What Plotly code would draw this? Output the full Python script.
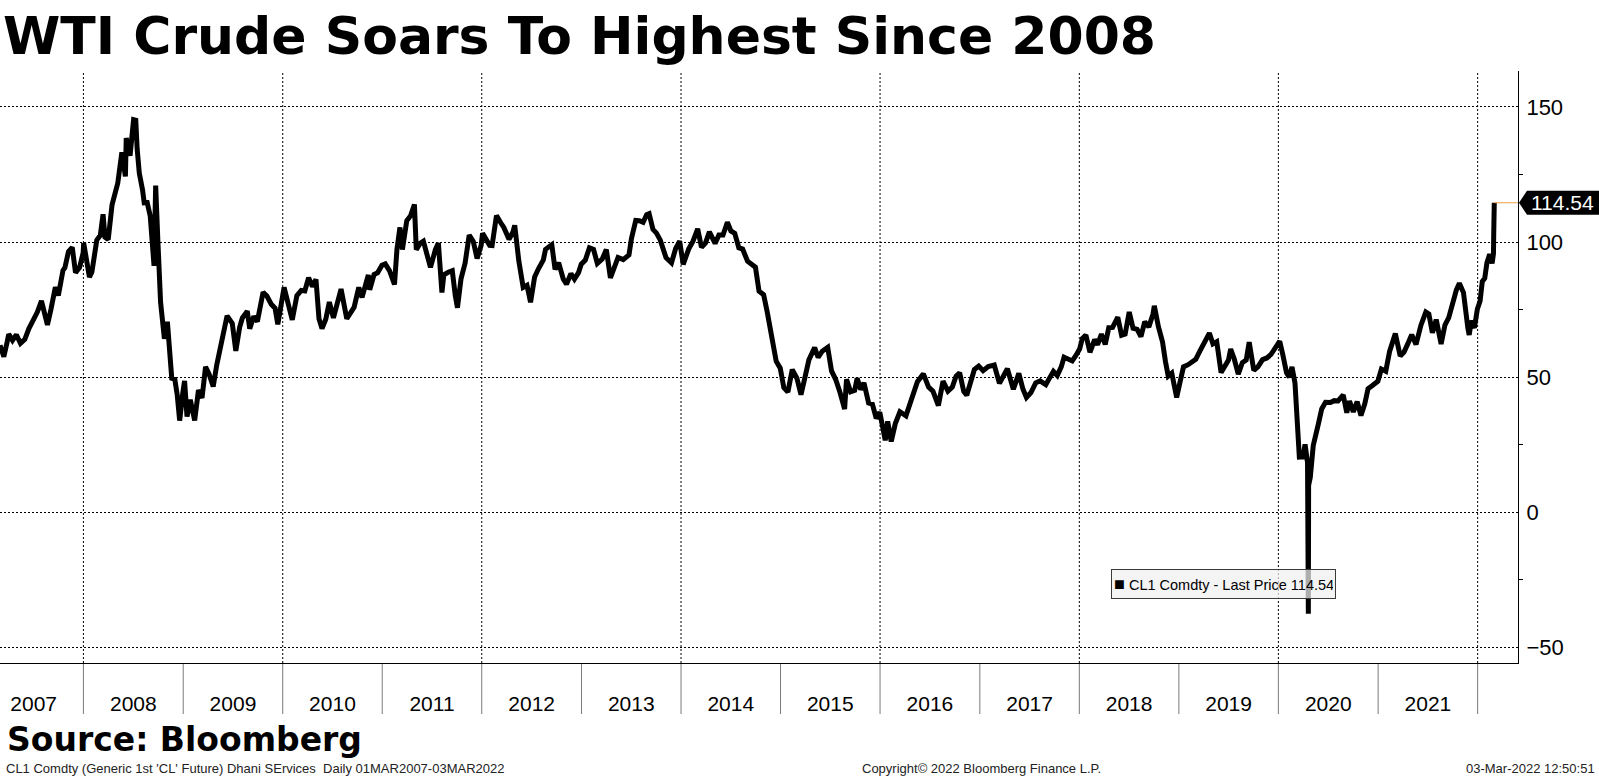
import plotly.graph_objects as go

# ---------------- data ----------------
dates = [
 "2007-03-01","2007-03-08","2007-03-15","2007-03-27","2007-04-02","2007-04-16","2007-04-30","2007-05-15","2007-05-31","2007-06-15",
 "2007-06-29","2007-07-16","2007-07-31","2007-08-15","2007-08-22","2007-09-04","2007-09-20","2007-10-01","2007-10-18","2007-10-25",
 "2007-11-07","2007-11-21","2007-12-03","2007-12-18","2007-12-31",
 "2008-01-02","2008-01-15","2008-01-23","2008-02-01","2008-02-19","2008-03-03","2008-03-13","2008-03-20","2008-04-01","2008-04-15",
 "2008-04-28","2008-05-06","2008-05-21","2008-06-03","2008-06-06","2008-06-13","2008-06-20","2008-07-03","2008-07-11","2008-07-16",
 "2008-07-24","2008-08-05","2008-08-11","2008-08-22","2008-09-02","2008-09-16","2008-09-22","2008-09-30","2008-10-10","2008-10-24",
 "2008-11-04","2008-11-20","2008-12-01","2008-12-10","2008-12-19","2008-12-31",
 "2009-01-06","2009-01-15","2009-01-27","2009-02-12","2009-02-26","2009-03-11","2009-03-24","2009-04-06","2009-04-21","2009-05-04",
 "2009-05-20","2009-06-02","2009-06-11","2009-06-30","2009-07-13","2009-07-27","2009-08-06","2009-08-24","2009-09-02","2009-09-17",
 "2009-09-30","2009-10-21","2009-11-04","2009-11-20","2009-12-04","2009-12-14","2009-12-31",
 "2010-01-06","2010-01-20","2010-02-05","2010-02-22","2010-03-10","2010-03-23","2010-04-06","2010-04-20","2010-05-03","2010-05-14",
 "2010-05-25","2010-06-08","2010-06-21","2010-07-06","2010-07-20","2010-08-03","2010-08-24","2010-09-07","2010-09-20","2010-10-07",
 "2010-10-19","2010-11-11","2010-11-16","2010-12-02","2010-12-15","2010-12-31",
 "2011-01-12","2011-01-28","2011-02-15","2011-02-24","2011-03-07","2011-03-16","2011-04-01","2011-04-15","2011-04-29","2011-05-06",
 "2011-05-20","2011-06-01","2011-06-15","2011-06-27","2011-07-15","2011-07-26","2011-08-08","2011-08-15","2011-08-31","2011-09-15",
 "2011-09-26","2011-10-04","2011-10-17","2011-11-01","2011-11-16","2011-12-01","2011-12-15","2011-12-30",
 "2012-01-04","2012-01-17","2012-01-30","2012-02-08","2012-02-24","2012-03-09","2012-03-22","2012-04-10","2012-04-24","2012-05-01",
 "2012-05-16","2012-06-01","2012-06-15","2012-06-28","2012-07-13","2012-07-27","2012-08-14","2012-08-22","2012-09-14","2012-09-26",
 "2012-10-09","2012-10-26","2012-11-07","2012-11-23","2012-12-06","2012-12-21","2012-12-31",
 "2013-01-15","2013-01-30","2013-02-14","2013-02-28","2013-03-18","2013-04-02","2013-04-17","2013-05-01","2013-05-15","2013-06-03",
 "2013-06-24","2013-07-03","2013-07-19","2013-08-01","2013-08-15","2013-08-28","2013-09-06","2013-09-20","2013-10-03","2013-10-17",
 "2013-11-07","2013-11-27","2013-12-12","2013-12-27",
 "2014-01-09","2014-01-29","2014-02-14","2014-03-03","2014-03-17","2014-04-01","2014-04-15","2014-05-06","2014-05-20","2014-06-04",
 "2014-06-20","2014-07-03","2014-07-17","2014-08-01","2014-08-15","2014-09-02","2014-09-22","2014-10-01","2014-10-14","2014-10-31",
 "2014-11-13","2014-11-28","2014-12-10","2014-12-16","2014-12-31",
 "2015-01-13","2015-01-28","2015-02-13","2015-03-02","2015-03-17","2015-04-01","2015-04-15","2015-05-06","2015-05-19","2015-06-03",
 "2015-06-23","2015-07-07","2015-07-22","2015-08-06","2015-08-24","2015-08-31","2015-09-15","2015-09-30","2015-10-09","2015-10-22",
 "2015-11-03","2015-11-20","2015-12-04","2015-12-18","2015-12-31",
 "2016-01-11","2016-01-20","2016-01-29","2016-02-11","2016-02-26","2016-03-14","2016-04-05","2016-04-18","2016-05-02","2016-05-17",
 "2016-06-08","2016-06-27","2016-07-13","2016-08-02","2016-08-19","2016-09-06","2016-09-22","2016-10-06","2016-10-19","2016-11-03",
 "2016-11-14","2016-11-30","2016-12-12","2016-12-28",
 "2017-01-13","2017-02-01","2017-02-23","2017-03-14","2017-03-31","2017-04-12","2017-05-04","2017-05-24","2017-06-08","2017-06-21",
 "2017-07-07","2017-07-25","2017-08-10","2017-08-31","2017-09-15","2017-09-28","2017-10-12","2017-10-27","2017-11-06","2017-11-21",
 "2017-12-06","2017-12-20","2018-01-02",
 "2018-01-12","2018-01-25","2018-02-09","2018-02-26","2018-03-09","2018-03-23","2018-04-06","2018-04-19","2018-05-03","2018-05-22",
 "2018-06-05","2018-06-18","2018-07-03","2018-07-17","2018-08-01","2018-08-15","2018-08-29","2018-09-13","2018-09-28","2018-10-03",
 "2018-10-18","2018-11-02","2018-11-13","2018-11-23","2018-12-06","2018-12-24","2019-01-03",
 "2019-01-18","2019-02-04","2019-02-15","2019-03-04","2019-03-20","2019-04-05","2019-04-23","2019-05-06","2019-05-20","2019-06-05",
 "2019-06-19","2019-07-02","2019-07-10","2019-07-23","2019-08-07","2019-08-22","2019-09-05","2019-09-16","2019-10-03","2019-10-18",
 "2019-11-04","2019-11-20","2019-12-05","2019-12-20",
 "2020-01-06","2020-01-17","2020-01-31","2020-02-10","2020-02-20","2020-03-02","2020-03-09","2020-03-18","2020-03-31","2020-04-08",
 "2020-04-17","2020-04-20","2020-04-21","2020-04-27","2020-05-08","2020-05-27","2020-06-08","2020-06-22","2020-07-10","2020-07-24",
 "2020-08-07","2020-08-26","2020-09-08","2020-09-18","2020-10-02","2020-10-16","2020-10-30","2020-11-13","2020-11-25","2020-12-10",
 "2020-12-31",
 "2021-01-13","2021-01-29","2021-02-12","2021-03-05","2021-03-23","2021-04-06","2021-04-20","2021-05-04","2021-05-20","2021-06-07",
 "2021-06-25","2021-07-06","2021-07-19","2021-08-02","2021-08-20","2021-09-03","2021-09-17","2021-10-05","2021-10-15","2021-10-26",
 "2021-11-10","2021-11-26","2021-12-01","2021-12-09","2021-12-20","2021-12-31",
 "2022-01-10","2022-01-18","2022-01-27","2022-02-04","2022-02-14","2022-02-23","2022-02-28","2022-03-01","2022-03-02","2022-03-03",
]
prices = [
 61.8,60.0,57.6,62.9,65.9,63.6,65.7,62.5,64.0,68.0,
 70.7,74.1,78.2,71.6,69.3,75.1,83.3,80.2,89.5,90.5,
 96.4,98.0,88.7,90.6,96.0,
 99.6,91.9,87.0,88.9,100.7,102.5,110.3,101.8,100.9,113.8,
 118.8,121.8,133.2,124.3,138.5,134.9,131.9,145.3,145.1,134.6,
 125.5,119.2,114.5,114.6,109.7,91.2,120.9,100.6,77.7,64.2,
 70.5,49.6,49.3,43.5,33.9,44.6,
 48.6,35.4,41.6,34.0,45.2,42.3,53.8,51.1,46.5,54.5,
 62.0,68.6,72.7,69.9,59.7,68.4,71.9,74.4,67.9,72.5,
 70.6,81.4,80.0,77.0,75.5,69.5,79.4,
 83.2,77.6,71.2,80.2,82.1,81.9,86.8,83.5,86.2,71.6,
 68.0,71.4,77.8,71.9,77.0,82.6,71.6,74.1,75.9,83.2,
 79.5,87.8,82.3,88.0,88.6,91.4,
 91.9,89.3,84.3,97.3,105.4,97.2,107.9,109.7,113.9,97.2,
 99.5,100.3,95.0,90.6,97.2,99.6,81.3,87.9,88.8,89.4,
 80.2,75.7,86.4,92.2,102.6,100.2,93.9,98.8,
 103.2,100.7,98.8,98.7,109.8,107.4,105.4,101.0,103.6,106.2,
 93.0,83.2,84.0,77.7,87.1,90.1,93.4,97.3,99.0,89.9,
 92.4,86.3,84.4,88.3,86.3,88.7,91.8,
 93.3,97.9,97.3,92.1,93.7,97.2,86.7,91.0,94.3,93.5,
 95.2,101.2,108.0,107.9,107.3,110.1,110.5,104.7,103.3,100.7,
 94.2,92.3,97.5,100.3,
 91.7,97.4,100.3,104.9,98.1,99.7,103.8,99.5,102.6,102.6,
 107.3,104.1,103.2,97.9,97.4,92.9,91.5,90.7,81.8,80.5,
 74.2,66.2,60.9,55.9,53.3,
 46.1,44.5,52.8,49.6,43.5,50.1,56.4,60.9,57.3,59.6,
 61.0,52.3,49.2,44.7,38.2,49.2,44.6,45.1,49.6,45.4,
 47.9,40.4,40.0,34.7,37.0,
 31.4,26.6,33.6,26.2,32.8,37.2,35.7,39.8,44.8,48.3,
 51.2,46.3,44.8,39.5,48.5,44.8,46.3,50.4,51.6,44.7,
 43.3,49.4,52.8,54.1,
 52.4,53.9,54.5,47.7,50.6,53.1,45.5,51.4,45.6,42.5,
 44.2,47.9,48.6,47.2,49.9,52.1,50.6,53.9,57.4,56.8,
 56.0,58.1,60.4,
 64.3,65.6,59.2,63.9,62.0,65.9,62.1,68.3,68.4,72.2,
 65.5,65.9,74.1,68.1,67.7,65.0,70.5,68.6,73.3,76.4,
 68.7,63.1,55.7,50.4,51.5,42.5,47.1,
 53.8,54.6,55.6,56.6,59.8,63.1,66.3,62.3,63.1,51.7,
 53.8,56.3,60.4,56.8,51.1,55.4,56.3,62.9,52.5,53.8,
 56.5,57.1,58.4,60.4,
 63.3,58.5,51.6,50.0,53.8,47.8,31.1,20.4,20.5,25.1,
 18.3,-37.6,10.0,12.8,24.7,32.8,38.2,40.7,40.6,41.3,
 41.2,43.4,36.8,41.1,37.1,40.9,35.8,40.1,45.7,46.8,
 48.5,
 53.0,52.2,59.5,66.1,57.8,59.3,62.4,65.7,62.1,69.2,
 74.1,73.4,66.4,71.3,62.3,69.3,72.0,78.9,82.3,84.7,
 81.3,68.2,65.6,70.9,68.2,75.2,
 78.2,85.4,86.6,92.3,95.5,92.1,95.7,103.4,110.6,114.54,
]

y_ticks = [150, 100, 50, 0, -50]
y_minor = [125, 75, 25, -25]
y_range = [-55.8, 163.3]
x_range = ["2007-03-01", "2022-05-29"]
year_bounds = ["2008-01-01","2009-01-01","2010-01-01","2011-01-01","2012-01-01","2013-01-01","2014-01-01",
               "2015-01-01","2016-01-01","2017-01-01","2018-01-01","2019-01-01","2020-01-01","2021-01-01","2022-01-01"]
grid_years = ["2008-01-01","2010-01-01","2012-01-01","2014-01-01","2016-01-01","2018-01-01","2020-01-01","2022-01-01"]

title = "WTI Crude Soars To Highest Since 2008"
source = "Source: Bloomberg"
footer_left = "CL1 Comdty (Generic 1st 'CL' Future) Dhani SErvices&nbsp;&nbsp;Daily 01MAR2007-03MAR2022"
footer_mid = "Copyright© 2022 Bloomberg Finance L.P."
footer_right = "03-Mar-2022 12:50:51"
series_name = "CL1 Comdty - Last Price"

# ---------------- layout geometry ----------------
W, H = 1599, 777
ML, MR, MT, MB = 0, 81, 71, 114
PW, PH = W - ML - MR, H - MT - MB

def px(xpix):
    return (xpix - ML) / PW

def py(ypix):
    return (H - MB - ypix) / PH

last = prices[-1]
dot = "2px,2px"

fig = go.Figure()
fig.add_trace(go.Scatter(x=dates, y=prices, mode="lines",
                         line=dict(color="black", width=5), hoverinfo="skip"))
# tick arrows on the right axis
fig.add_trace(go.Scatter(x=[1.0035] * len(y_ticks), y=y_ticks, xaxis="x2", yaxis="y",
                         mode="markers", cliponaxis=False, hoverinfo="skip",
                         marker=dict(symbol="triangle-right", size=8, color="black")))

shapes = []
for d in grid_years:
    shapes.append(dict(type="line", xref="x", yref="paper", x0=d, x1=d, y0=0, y1=1,
                       line=dict(color="black", width=1, dash=dot), layer="below"))
for d in year_bounds:
    shapes.append(dict(type="line", xref="x", yref="paper", x0=d, x1=d, y0=0, y1=py(714),
                       line=dict(color="#7a7a7a", width=1), layer="below"))
# orange last price line
shapes.append(dict(type="line", xref="x", yref="y", x0=dates[-1], x1=x_range[1], y0=last, y1=last,
                   line=dict(color="#e8a040", width=1)))
# last price flag
hh = 4.45
shapes.append(dict(type="path", xref="paper", yref="y", layer="above",
                   path=f"M {px(1519)},{last} L {px(1527)},{last+hh} L {px(1600)},{last+hh} "
                        f"L {px(1600)},{last-hh} L {px(1527)},{last-hh} Z",
                   fillcolor="black", line=dict(color="black", width=0)))

annotations = [
    dict(text=f"{last:.2f}", xref="paper", yref="y", x=px(1562.5), y=last, showarrow=False,
         xanchor="center", yanchor="middle", font=dict(family="Liberation Sans", size=21, color="white")),
    dict(text=f"<span style='font-size:18px'>■</span> {series_name} {last:.2f}",
         xref="paper", yref="paper", x=px(1223.4), y=py(584.3), showarrow=False,
         xanchor="center", yanchor="middle", align="left", width=219, height=24,
         bgcolor="rgba(240,240,240,0.72)", bordercolor="#3a3a3a", borderwidth=1, borderpad=2,
         font=dict(family="Liberation Sans", size=14.5, color="black")),
    dict(text=source, xref="paper", yref="paper", x=px(5), y=py(739), showarrow=False,
         xanchor="left", yanchor="middle",
         font=dict(family="DejaVu Sans", size=33, color="black", weight="bold")),
    dict(text=footer_left, xref="paper", yref="paper", x=px(4), y=py(768), showarrow=False,
         xanchor="left", yanchor="middle", font=dict(family="Liberation Sans", size=13, color="#222")),
    dict(text=footer_mid, xref="paper", yref="paper", x=px(981.5), y=py(768), showarrow=False,
         xanchor="center", yanchor="middle", font=dict(family="Liberation Sans", size=13, color="#222")),
    dict(text=footer_right, xref="paper", yref="paper", x=px(1597), y=py(768), showarrow=False,
         xanchor="right", yanchor="middle", font=dict(family="Liberation Sans", size=13, color="#222")),
]

fig.update_layout(
    width=W, height=H,
    margin=dict(l=ML, r=MR, t=MT, b=MB, pad=0),
    paper_bgcolor="white", plot_bgcolor="white",
    showlegend=False,
    title=dict(text=title, xref="container", yref="container", x=3 / W, xanchor="left",
               y=1 - 36 / H, yanchor="middle",
               font=dict(family="DejaVu Sans", size=52, color="black", weight="bold")),
    xaxis=dict(type="date", range=x_range, showgrid=False, zeroline=False,
               showline=True, linecolor="black", linewidth=1,
               dtick="M12", tick0="2008-01-01", ticklabelmode="period", tickformat="%Y",
               ticks="", ticklabelstandoff=22,
               tickfont=dict(family="Liberation Sans", size=21, color="black")),
    xaxis2=dict(overlaying="x", range=[0, 1], visible=False, fixedrange=True),
    yaxis=dict(side="right", range=y_range, tickmode="array", tickvals=y_ticks,
               showgrid=True, gridcolor="black", gridwidth=1, griddash=dot, zeroline=False,
               showline=True, linecolor="black", linewidth=1,
               ticks="outside", ticklen=3, tickcolor="rgba(0,0,0,0)",
               minor=dict(tickvals=y_minor, ticks="outside", ticklen=4, tickcolor="black", showgrid=False),
               tickfont=dict(family="Liberation Sans", size=22, color="black")),
    shapes=shapes,
    annotations=annotations,
)

fig.write_html("out.html")
